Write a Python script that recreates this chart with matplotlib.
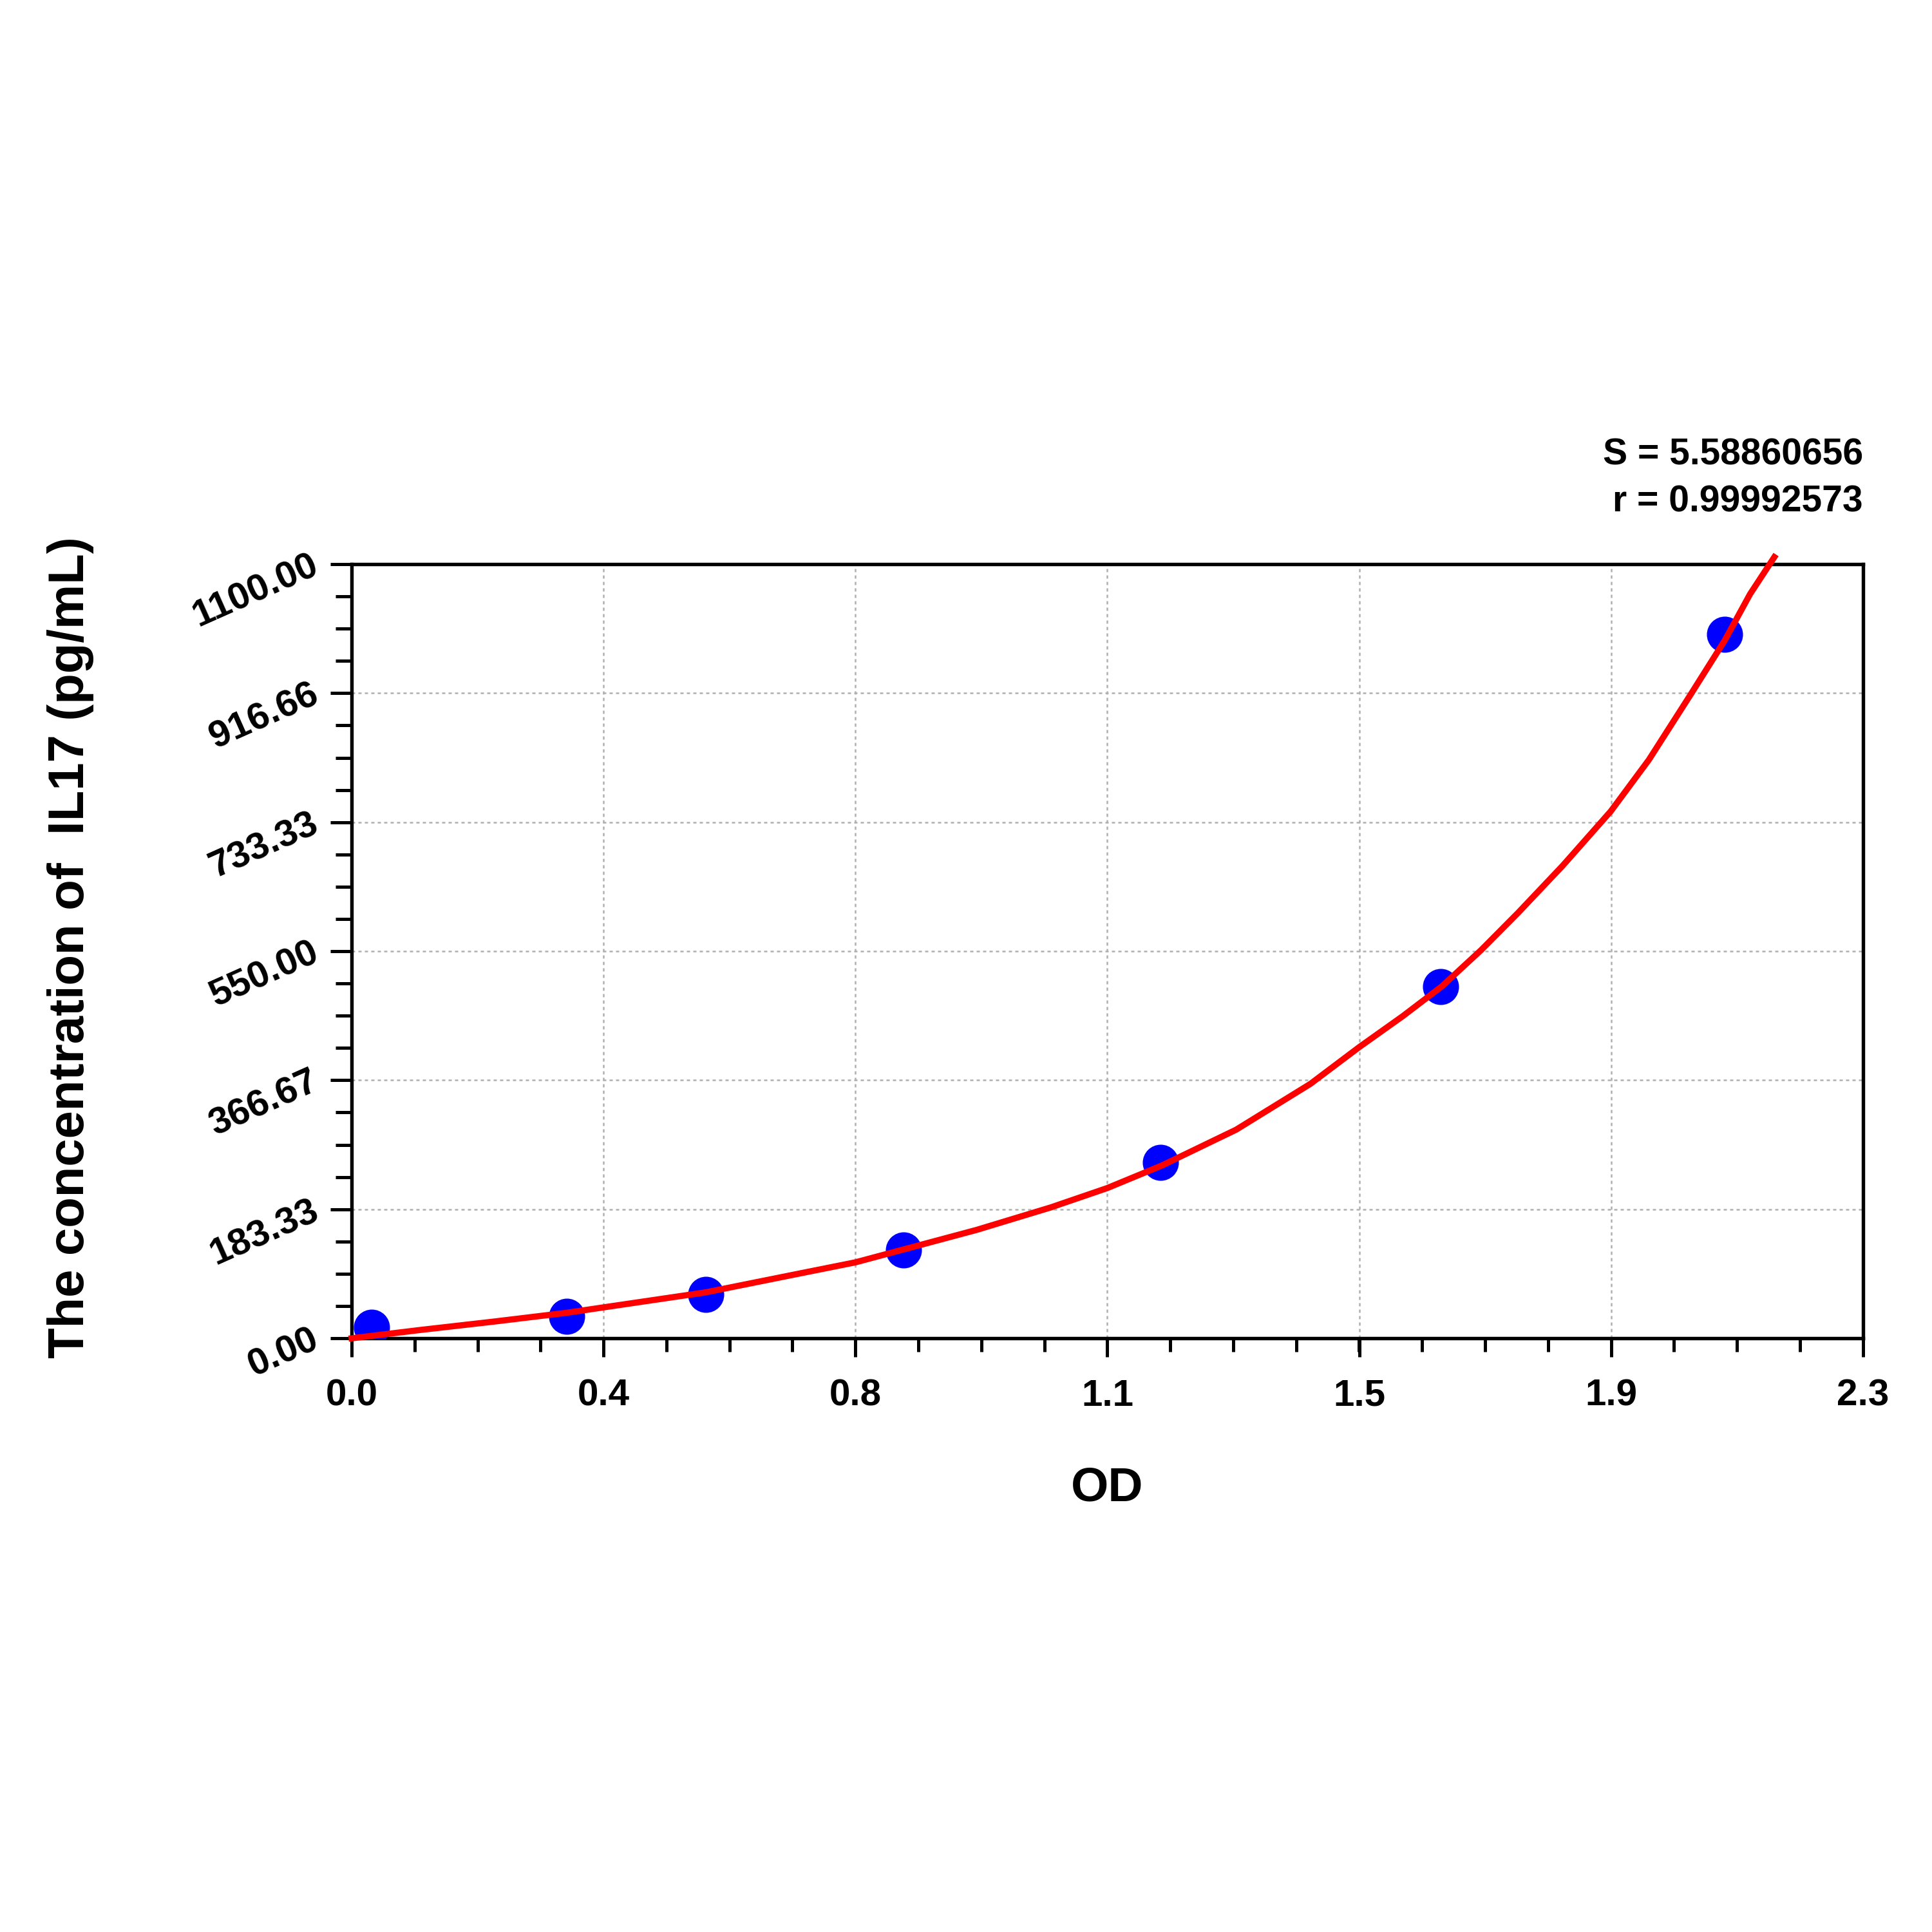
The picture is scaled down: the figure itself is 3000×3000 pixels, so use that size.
import numpy as np
import matplotlib
matplotlib.use("Agg")
import matplotlib.pyplot as plt
from matplotlib.ticker import AutoMinorLocator

plt.rcParams['font.family'] = ['Liberation Sans', 'DejaVu Sans']
plt.rcParams['font.weight'] = 'bold'

# standard points (OD vs concentration)
od_points = [0.030, 0.327, 0.539, 0.840, 1.231, 1.657, 2.089]
conc_points = [15.6, 31.25, 62.5, 125.0, 250.0, 500.0, 1000.0]

# fitted curve
curve_od = [0.0, 0.105, 0.217, 0.327, 0.383, 0.539, 0.669, 0.767, 0.877,
            0.951, 1.064, 1.150, 1.233, 1.346, 1.459, 1.533, 1.600, 1.659,
            1.719, 1.775, 1.843, 1.916, 1.974, 2.038, 2.090, 2.128, 2.165]
curve_conc = [0.0, 11.9, 23.8, 36.2, 43.9, 65.3, 89.7, 108.0, 135.5,
              154.0, 186.0, 213.5, 245.5, 296.4, 361.5, 413.5, 458.0, 500.0,
              551.8, 604.5, 671.6, 748.7, 821.8, 915.2, 992.3, 1057.3, 1110.0]

x_ticks = [0.0, 0.3833, 0.7667, 1.15, 1.5333, 1.9167, 2.3]
x_labels = ["0.0", "0.4", "0.8", "1.1", "1.5", "1.9", "2.3"]
y_ticks = [0.0, 183.33, 366.67, 550.0, 733.33, 916.66, 1100.0]
y_labels = ["0.00", "183.33", "366.67", "550.00", "733.33", "916.66", "1100.00"]

s_text = "S = 5.58860656"
r_text = "r = 0.99992573"

fig = plt.figure(figsize=(10, 10), dpi=300)
ax = fig.add_axes([0.182, 0.3073, 0.7823, 0.4007])

ax.scatter(od_points, conc_points, s=155, color='#0000ff', zorder=3)
ax.plot(curve_od, curve_conc, color='#ff0000', linewidth=2.3, zorder=4,
        clip_on=False, solid_joinstyle='round')

ax.set_xlim(0, 2.3)
ax.set_ylim(0, 1100)
ax.set_xticks(x_ticks)
ax.set_xticklabels(x_labels)
ax.set_yticks(y_ticks)
ax.set_yticklabels(y_labels, rotation=24, ha='right', va='center', rotation_mode='anchor')
ax.xaxis.set_minor_locator(AutoMinorLocator(4))
ax.yaxis.set_minor_locator(AutoMinorLocator(4))

ax.tick_params(axis='x', which='major', length=7, width=1.2, pad=8, labelsize=14)
ax.tick_params(axis='x', which='minor', length=5, width=1.2)
ax.tick_params(axis='y', which='major', length=8, width=1.2, pad=5, labelsize=14)
ax.tick_params(axis='y', which='minor', length=6, width=1.2)

for sp in ax.spines.values():
    sp.set_linewidth(1.3)
    sp.set_color('black')

ax.grid(which='major', color='#b0b0b0', linestyle=(0, (2, 2)), linewidth=0.6)
ax.set_axisbelow(True)

ax.set_xlabel("OD", fontsize=18, fontweight='bold')
ax.xaxis.set_label_coords(0.5, -0.194)
ax.xaxis.label.set_va('center')
ax.set_ylabel("The concentration of  IL17 (pg/mL)", fontsize=18.7, fontweight='bold')
ax.yaxis.set_label_coords(-0.186, 0.505)
ax.yaxis.label.set_va('center')

ax.text(1.0, 1.1406, s_text, transform=ax.transAxes, ha='right', va='center',
        fontsize=13.7, fontweight='bold')
ax.text(1.0, 1.080, r_text, transform=ax.transAxes, ha='right', va='center',
        fontsize=13.7, fontweight='bold')

fig.savefig("out.png", dpi=300, facecolor='white')
